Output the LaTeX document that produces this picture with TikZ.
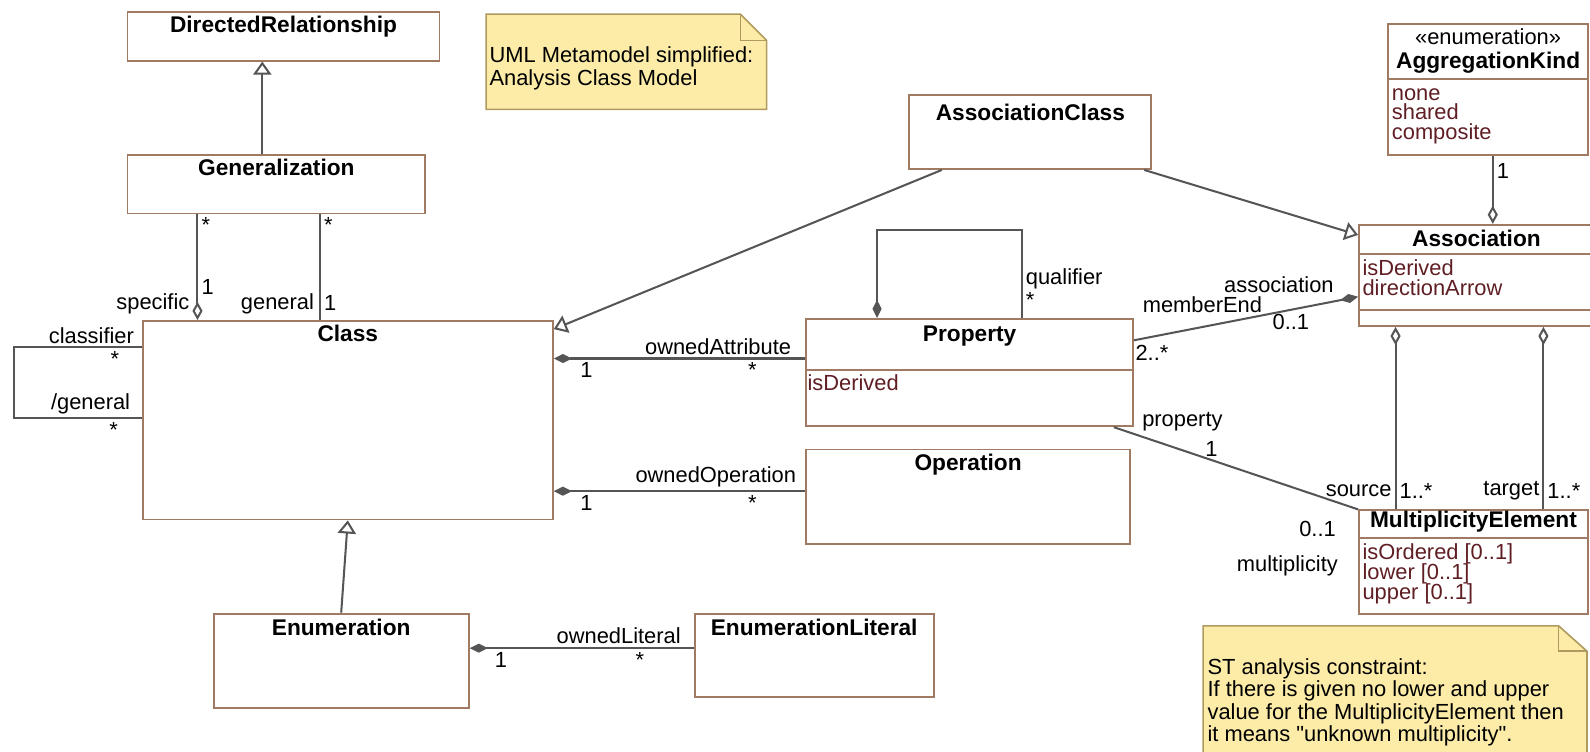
\documentclass[tikz,border=0pt]{standalone}
\usepackage{fontspec}
\setmainfont{Liberation Sans}
\usetikzlibrary{arrows.meta}

\definecolor{boxbrown}{RGB}{160,122,98}
\definecolor{linegray}{RGB}{85,85,85}
\definecolor{attrred}{RGB}{95,30,35}
\definecolor{notefill}{RGB}{252,236,168}
\definecolor{noteline}{RGB}{175,155,95}

\tikzset{
  box/.style={draw=boxbrown, line width=0.9pt, anchor=north west, inner sep=0pt},
  sep/.style={draw=boxbrown, line width=0.9pt},
  title/.style={font=\fontsize{11.2}{12}\selectfont\bfseries, anchor=base, inner sep=0pt},
  attr/.style={text=attrred, anchor=base west, inner sep=0pt},
  lab/.style={inner sep=1.5pt},
  inh/.style={draw=linegray, line width=1pt, -{Triangle[open, length=6.5pt, width=9pt]}},
  agg/.style={draw=linegray, line width=1pt, {Diamond[open, length=9pt, width=5pt]}-},
  comp/.style={draw=linegray, line width=1pt, {Diamond[length=9pt, width=4.5pt]}-},
  assoc/.style={draw=linegray, line width=1pt},
  note/.style={draw=noteline, fill=notefill, line width=0.8pt},
}

\begin{document}
\begin{tikzpicture}[x=0.5pt, y=-0.5pt, font=\fontsize{10.8}{12}\selectfont]

	\useasboundingbox (0,0) rectangle (1570,742);

	% notes
	\draw[note] (480,14) -- (731,14) -- (757,40) -- (757,108) -- (480,108) -- cycle;
	\draw[note, fill=none] (731,14) -- (731,40) -- (757,40);
	\node[anchor=north west, inner sep=0pt, align=left, font=\fontsize{10.8}{9}\selectfont] (notetop) at (483,46) {UML Metamodel simplified:\\Analysis Class Model};

	\draw[note] (1188,618) -- (1539,618) -- (1567,643) -- (1567,760) -- (1188,760) -- cycle;
	\draw[note, fill=none] (1539,618) -- (1539,643) -- (1567,643);
	\node[anchor=north west, inner sep=0pt, align=left, font=\fontsize{10.8}{9.8}\selectfont] (notest) at (1192,650) {ST analysis constraint:\\If there is given no lower and upper\\value for the MultiplicityElement then\\it means \textquotedbl unknown multiplicity\textquotedbl.};

	% classes
	\node[box, minimum width=154pt, minimum height=24pt] (dirrel) at (125,11) {};
	\node[box, minimum width=147pt, minimum height=29pt] (gen) at (125,152) {};
	\node[box, minimum width=202.5pt, minimum height=98pt] (cls) at (140,316) {};
	\node[box, minimum width=126pt, minimum height=46.5pt] (enum) at (210,605) {};
	\node[box, minimum width=118pt, minimum height=41pt] (enumlit) at (685,605) {};
	\node[box, minimum width=119.5pt, minimum height=36.5pt] (assoccls) at (897,93) {};
	\node[box, minimum width=161.5pt, minimum height=53pt] (prop) at (795,314) {};
	\node[box, minimum width=160pt, minimum height=46.5pt] (op) at (795,443) {};
	\node[box, minimum width=98.5pt, minimum height=64.5pt] (aggkind) at (1370,23) {};
	\node[box, minimum width=116pt, minimum height=50pt] (assoc) at (1341,221) {};
	\node[box, minimum width=113pt, minimum height=51pt] (me) at (1341,503) {};

	\node[title] at ([yshift=-10.75pt]dirrel.north) {DirectedRelationship};
	\node[title] at ([yshift=-10.75pt]gen.north) {Generalization};
	\node[title] at ([yshift=-10.5pt]cls.north) {Class};
	\node[title] at ([yshift=-11.5pt]enum.north) {Enumeration};
	\node[title] at ([yshift=-11.5pt]enumlit.north) {EnumerationLiteral};
	\node[title] at ([yshift=-13pt]assoccls.north) {AssociationClass};
	\node[title] at ([yshift=-11.5pt]prop.north) {Property};
	\node[title] at ([yshift=-11pt]op.north) {Operation};
	\node[title, font=\fontsize{10.8}{12}\selectfont] at ([yshift=-10.5pt]aggkind.north) {«enumeration»};
	\node[title] at ([yshift=-22.5pt]aggkind.north) {AggregationKind};
	\node[title] at ([yshift=-11pt]assoc.north) {Association};
	\node[title] at ([yshift=-9pt]me.north) {MultiplicityElement};

	% compartments
	\draw[sep] ([yshift=-25.5pt]prop.north west) -- ([yshift=-25.5pt]prop.north east);
	\draw[sep] ([yshift=-27.5pt]aggkind.north west) -- ([yshift=-27.5pt]aggkind.north east);
	\draw[sep] ([yshift=-15pt]assoc.north west) -- ([yshift=-15pt]assoc.north east);
	\draw[sep] ([yshift=-42.5pt]assoc.north west) -- ([yshift=-42.5pt]assoc.north east);
	\draw[sep] ([yshift=-14pt]me.north west) -- ([yshift=-14pt]me.north east);

	\node[attr] at ([xshift=1pt, yshift=-36pt]prop.north west) {isDerived};
	\node[attr] at ([xshift=2pt, yshift=-38pt]aggkind.north west) {none};
	\node[attr] at ([xshift=2pt, yshift=-47.5pt]aggkind.north west) {shared};
	\node[attr] at ([xshift=2pt, yshift=-57.5pt]aggkind.north west) {composite};
	\node[attr] at ([xshift=2pt, yshift=-25.5pt]assoc.north west) {isDerived};
	\node[attr] at ([xshift=2pt, yshift=-35.5pt]assoc.north west) {directionArrow};
	\node[attr] at ([xshift=2pt, yshift=-24.5pt]me.north west) {isOrdered [0..1]};
	\node[attr] at ([xshift=2pt, yshift=-34.5pt]me.north west) {lower [0..1]};
	\node[attr] at ([xshift=2pt, yshift=-44.5pt]me.north west) {upper [0..1]};

	% generalizations
	\draw[inh] ([xshift=67pt]gen.north west) -- ([xshift=67pt]dirrel.south west);
	\draw[inh] (enum.north) -- (cls.south);
	\draw[inh] ([xshift=16.5pt]assoccls.south west) -- ([yshift=-4.5pt]cls.north east);
	\draw[inh] ([xshift=-4pt]assoccls.south east) -- ([yshift=-5.5pt]assoc.north west);

	% associations
	\draw[agg] ([xshift=27.5pt]cls.north west) -- node[lab, pos=0.15, anchor=east, xshift=-2pt]{specific} node[lab, pos=0.31, anchor=west]{1} node[lab, pos=0.9, anchor=west]{*} ([xshift=35pt]gen.south west);
	\draw[assoc] ([xshift=88pt]cls.north west) -- node[lab, pos=0.15, anchor=east, xshift=-1pt]{general} node[lab, pos=0.16, anchor=west]{1} node[lab, pos=0.9, anchor=west]{*} ([xshift=95.5pt]gen.south west);
	\draw[assoc] ([yshift=-13.5pt]cls.north west) -- node[lab, pos=0.03, anchor=south east]{classifier} node[lab, pos=0.21, anchor=north]{*} ++(-63pt,0) |- node[lab, pos=0.97, anchor=south east]{/general} node[lab, pos=0.89, anchor=north]{*} ([yshift=-48.5pt]cls.north west);

	\draw[comp] ([yshift=-17.5pt]enum.north east) -- node[lab, pos=0.96, anchor=south east]{ownedLiteral} node[lab, pos=0.14, anchor=north]{1} node[lab, pos=0.76, anchor=north]{*} ([yshift=-17.5pt]enum.north east -| enumlit.west);
	\draw[comp] ([yshift=-19pt]cls.north east) -- node[lab, pos=0.96, anchor=south east]{ownedAttribute} node[lab, pos=0.13, anchor=north]{1} node[lab, pos=0.79, anchor=north]{*} ([yshift=-19pt]cls.north east -| prop.west);
	\draw[comp] ([yshift=-84.5pt]cls.north east) -- node[lab, pos=0.98, anchor=south east]{ownedOperation} node[lab, pos=0.13, anchor=north]{1} node[lab, pos=0.79, anchor=north]{*} ([yshift=-84.5pt]cls.north east -| op.west);

	\draw[comp] ([xshift=35.5pt]prop.north west) -- ++(0,43.5pt) -| node[lab, pos=0.78, anchor=west]{qualifier} node[lab, pos=0.9, anchor=west]{*} ([xshift=107pt]prop.north west);
	\draw[comp] ([yshift=-36pt]assoc.north west) -- node[lab, pos=0.1, anchor=south east, yshift=3pt, inner sep=0.5pt]{association} node[lab, pos=0.42, anchor=south east, inner sep=0.5pt]{memberEnd} node[lab, pos=0.3, anchor=north]{0..1} node[lab, pos=0.92, anchor=north, yshift=-2pt]{2..*} ([yshift=-11pt]prop.north east);
	\draw[assoc] ([xshift=-10pt]prop.south east) -- node[lab, pos=0.1, anchor=south west]{property} node[lab, pos=0.4, anchor=south]{1} node[lab, pos=1, anchor=north east, xshift=-9pt, yshift=-4pt]{0..1} node[lab, pos=1, anchor=north east, xshift=-8pt, yshift=-21pt]{multiplicity} (me.north west);

	\draw[agg] ([xshift=66.5pt]assoc.north west) -- node[lab, pos=0.78, anchor=west]{1} ([xshift=52pt]aggkind.south west);
	\draw[agg] ([xshift=18.5pt]assoc.south west) -- node[lab, pos=0.9, anchor=east]{source} node[lab, pos=0.9, anchor=west]{1..*} ([xshift=18.5pt]me.north west);
	\draw[agg] ([xshift=91.5pt]assoc.south west) -- node[lab, pos=0.9, anchor=east]{target} node[lab, pos=0.9, anchor=west]{1..*} ([xshift=91.5pt]me.north west);

\end{tikzpicture}
\end{document}
